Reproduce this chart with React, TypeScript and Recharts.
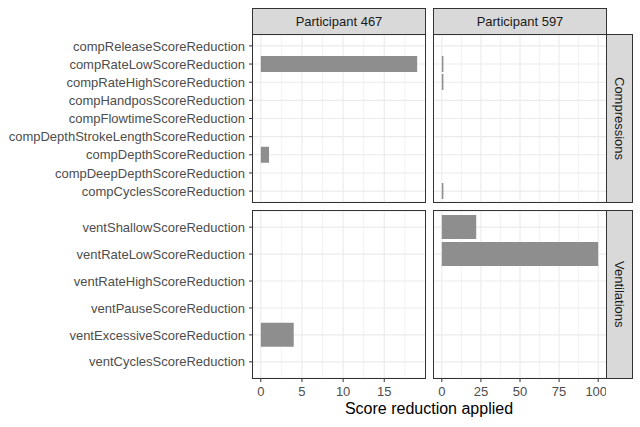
import { BarChart, Bar, XAxis, YAxis, CartesianGrid } from 'recharts';

const compCategories = [
  'compReleaseScoreReduction',
  'compRateLowScoreReduction',
  'compRateHighScoreReduction',
  'compHandposScoreReduction',
  'compFlowtimeScoreReduction',
  'compDepthStrokeLengthScoreReduction',
  'compDepthScoreReduction',
  'compDeepDepthScoreReduction',
  'compCyclesScoreReduction',
];
const ventCategories = [
  'ventShallowScoreReduction',
  'ventRateLowScoreReduction',
  'ventRateHighScoreReduction',
  'ventPauseScoreReduction',
  'ventExcessiveScoreReduction',
  'ventCyclesScoreReduction',
];

const p467Comp = [0, 19, 0, 0, 0, 0, 1, 0, 0];
const p597Comp = [0, 1, 1, 0, 0, 0, 0, 0, 1];
const p467Vent = [0, 0, 0, 0, 4, 0];
const p597Vent = [22, 100, 0, 0, 0, 0];

const participants = ['Participant 467', 'Participant 597'];
const rows = ['Compressions', 'Ventilations'];

const p467Ticks = [0, 5, 10, 15];
const p467Minor = [2.5, 7.5, 12.5, 17.5];
const p597Ticks = [0, 25, 50, 75, 100];
const p597Minor = [12.5, 37.5, 62.5, 87.5];

const toRows = (cats: string[], vals: number[]) =>
  cats.map((name, i) => ({ name, value: vals[i] }));

// ggplot-ish continuous expansion (5% each side)
const expand = (max: number): [number, number] => [-0.05 * max, max * 1.05];

const FONT = '"Liberation Sans", Arial, sans-serif';
const PANEL_H = 167;

type PanelProps = {
  data: { name: string; value: number }[];
  domain: [number, number];
  major: number[];
  minor: number[];
  showY: boolean;
  showX: boolean;
  left: number;
  top: number;
};

const Panel = ({ data, domain, major, minor, showY, showX, left, top }: PanelProps) => {
  const yw = showY ? 253 : 0;
  const xh = showX ? 30 : 0;
  const pad = (PANEL_H / (data.length + 0.2)) * 0.1;
  return (
    <div style={{ position: 'absolute', left, top }}>
      <BarChart
        layout="vertical"
        width={yw + 172}
        height={PANEL_H + xh}
        data={data}
        margin={{ top: 0, right: 0, bottom: 0, left: 0 }}
        barCategoryGap="5%"
      >
        <CartesianGrid
          stroke="#ebebeb"
          strokeWidth={0.6}
          horizontal={false}
          verticalValues={minor}
        />
        <CartesianGrid stroke="#ebebeb" strokeWidth={1.1} verticalValues={major} />
        <XAxis
          type="number"
          domain={domain}
          allowDataOverflow
          ticks={major}
          hide={!showX}
          height={xh}
          axisLine={false}
          tickSize={4}
          tickMargin={5}
          tickLine={{ stroke: '#333333' }}
          tick={{ fill: '#4d4d4d', fontSize: 13, fontFamily: FONT }}
        />
        <YAxis
          type="category"
          dataKey="name"
          hide={!showY}
          width={yw}
          padding={{ top: pad, bottom: pad }}
          axisLine={false}
          tickSize={4}
          tickMargin={4}
          interval={0}
          tickLine={{ stroke: '#333333' }}
          tick={{ fill: '#4d4d4d', fontSize: 13, fontFamily: FONT }}
        />
        <Bar dataKey="value" fill="#8e8e8e" isAnimationActive={false} />
      </BarChart>
    </div>
  );
};

const boxStyle = (left: number, top: number, width: number, height: number) => ({
  position: 'absolute' as const,
  left,
  top,
  width,
  height,
  boxSizing: 'border-box' as const,
  border: '1px solid #333333',
});

const App = () => {
  const colLeft = [252, 433];
  const rowTop = [34, 210];
  return (
    <div
      style={{
        position: 'absolute',
        left: 0,
        top: 0,
        width: 640,
        height: 427,
        background: '#ffffff',
        fontFamily: FONT,
        overflow: 'hidden',
      }}
    >
      <Panel data={toRows(compCategories, p467Comp)} domain={expand(19)} major={p467Ticks} minor={p467Minor} showY showX={false} left={0} top={35} />
      <Panel data={toRows(compCategories, p597Comp)} domain={expand(100)} major={p597Ticks} minor={p597Minor} showY={false} showX={false} left={434} top={35} />
      <Panel data={toRows(ventCategories, p467Vent)} domain={expand(19)} major={p467Ticks} minor={p467Minor} showY showX left={0} top={211} />
      <Panel data={toRows(ventCategories, p597Vent)} domain={expand(100)} major={p597Ticks} minor={p597Minor} showY={false} showX left={434} top={211} />

      {colLeft.map((l) =>
        rowTop.map((t) => <div key={`${l}-${t}`} style={{ ...boxStyle(l, t, 174, 169), pointerEvents: 'none' }} />)
      )}

      {participants.map((p, i) => (
        <div
          key={p}
          style={{
            ...boxStyle(colLeft[i], 8, 174, 27),
            background: '#d9d9d9',
            display: 'flex',
            alignItems: 'center',
            justifyContent: 'center',
            fontSize: 13,
            color: '#1a1a1a',
          }}
        >
          {p}
        </div>
      ))}

      {rows.map((r, i) => (
        <div
          key={r}
          style={{
            ...boxStyle(606, rowTop[i], 27, 169),
            background: '#d9d9d9',
            display: 'flex',
            alignItems: 'center',
            justifyContent: 'center',
            fontSize: 13,
            color: '#1a1a1a',
          }}
        >
          <span style={{ writingMode: 'vertical-rl' }}>{r}</span>
        </div>
      ))}

      <div
        style={{
          position: 'absolute',
          left: 252,
          width: 354,
          top: 401,
          lineHeight: '16px',
          fontSize: 16,
          textAlign: 'center',
          color: '#000000',
        }}
      >
        Score reduction applied
      </div>
    </div>
  );
};

export default App;
